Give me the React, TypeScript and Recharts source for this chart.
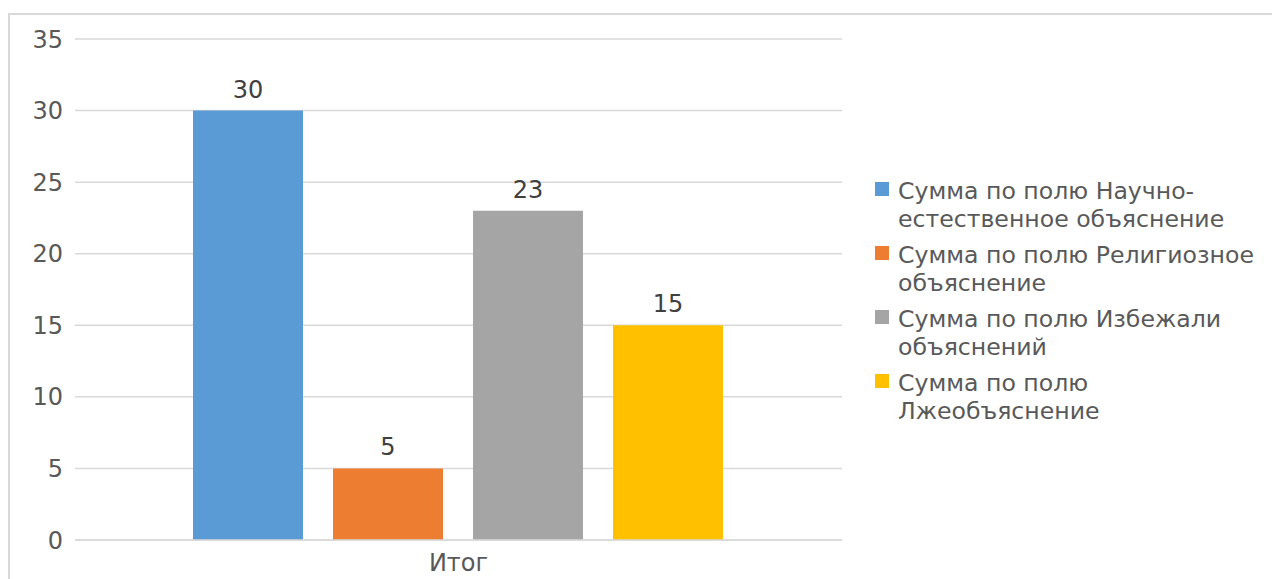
import { BarChart, Bar, XAxis, YAxis, CartesianGrid, LabelList } from "recharts";

const categories = ["Итог"];
const seriesKeys = ["science", "religion", "avoided", "pseudo"];
const seriesNames = [
  "Сумма по полю Научно-естественное объяснение",
  "Сумма по полю Религиозное объяснение",
  "Сумма по полю Избежали объяснений",
  "Сумма по полю Лжеобъяснение",
];
const legendLines = [
  ["Сумма по полю Научно-", "естественное объяснение"],
  ["Сумма по полю Религиозное", "объяснение"],
  ["Сумма по полю Избежали", "объяснений"],
  ["Сумма по полю", "Лжеобъяснение"],
];
const seriesValues = [30, 5, 23, 15];
const seriesColors = ["#5B9BD5", "#ED7D31", "#A5A5A5", "#FFC000"];
const yTicks = [0, 5, 10, 15, 20, 25, 30, 35];

const data = categories.map((name) => {
  const row: Record<string, string | number> = { name };
  seriesKeys.forEach((k, i) => {
    row[k] = seriesValues[i];
  });
  return row;
});

const FONT = "'DejaVu Sans', sans-serif";

function LegendBox() {
  return (
    <div
      style={{
        position: "absolute",
        left: 865,
        top: 162,
        fontFamily: FONT,
        fontSize: 23.6,
        lineHeight: "28px",
        color: "#595959",
      }}
    >
      {legendLines.map((lines, i) => (
        <div key={seriesKeys[i]} title={seriesNames[i]} style={{ display: "flex", marginBottom: 8 }}>
          <div
            style={{
              width: 14,
              height: 14,
              marginTop: 5,
              marginRight: 9,
              background: seriesColors[i],
              flexShrink: 0,
            }}
          />
          <div style={{ whiteSpace: "nowrap" }}>
            {lines.map((l) => (
              <div key={l}>{l}</div>
            ))}
          </div>
        </div>
      ))}
    </div>
  );
}

export default function App() {
  return (
    <div
      style={{
        position: "relative",
        marginTop: 5,
        width: 1266,
        height: 572,
        border: "2px solid #d9d9d9",
        background: "#fff",
      }}
    >
      <BarChart
        width={1266}
        height={570}
        data={data}
        margin={{ top: 24, right: 434, bottom: 0, left: 0 }}
        barCategoryGap={118}
        barGap={30}
      >
        <CartesianGrid vertical={false} stroke="#d9d9d9" strokeWidth={1.5} />
        <XAxis
          dataKey="name"
          height={45}
          tickSize={0}
          tickMargin={14}
          axisLine={{ stroke: "#d9d9d9", strokeWidth: 1.5 }}
          tick={{ fill: "#595959", fontSize: 24, fontFamily: FONT }}
        />
        <YAxis
          width={65}
          domain={[0, 35]}
          ticks={yTicks}
          tickSize={0}
          tickMargin={12}
          axisLine={false}
          tick={{ fill: "#595959", fontSize: 24, fontFamily: FONT }}
        />
        {seriesKeys.map((k, i) => (
          <Bar
            key={k}
            dataKey={k}
            name={seriesNames[i]}
            fill={seriesColors[i]}
            isAnimationActive={false}
          >
            <LabelList
              dataKey={k}
              position="top"
              offset={13}
              fill="#404040"
              fontSize={24}
              fontFamily={FONT}
            />
          </Bar>
        ))}
      </BarChart>
      <LegendBox />
    </div>
  );
}
